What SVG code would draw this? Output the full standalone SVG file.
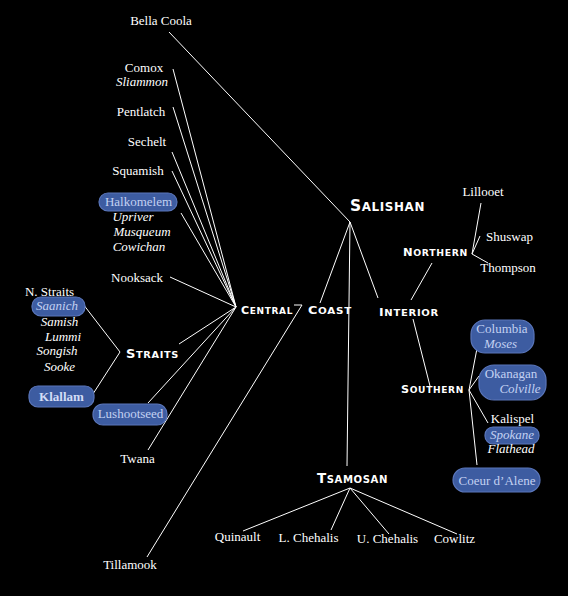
<svg xmlns="http://www.w3.org/2000/svg" width="568" height="596" viewBox="0 0 568 596">
<defs>
<style>
.t{font-family:"Liberation Serif","Times New Roman",serif;font-size:13px;fill:#ffffff;text-anchor:middle}
.i{font-style:italic}
.p{fill:#c3d1f2}
.sc{font-family:"DejaVu Sans","Liberation Sans",sans-serif;font-weight:bold;fill:#ffffff;letter-spacing:0.6px}
.pill{fill:#3d5ba1;stroke:#5a76ba;stroke-width:1.2}
.ln{stroke:#ffffff;stroke-width:1;fill:none}
</style>
<filter id="soft" x="-10%" y="-20%" width="120%" height="140%"><feGaussianBlur stdDeviation="0.7"/></filter>
</defs>
<rect width="568" height="596" fill="#000000"/>
<g id="connectors" class="ln">
<line x1="169" y1="32" x2="350" y2="222"/>
<line x1="350" y1="222" x2="320" y2="303"/>
<line x1="350" y1="222" x2="347" y2="466"/>
<line x1="350" y1="222" x2="378" y2="298"/>
<line x1="173" y1="69" x2="236" y2="307"/>
<line x1="173" y1="107" x2="236" y2="307"/>
<line x1="172" y1="152" x2="236" y2="307"/>
<line x1="172" y1="171" x2="236" y2="307"/>
<line x1="181" y1="213" x2="236" y2="307"/>
<line x1="170" y1="277" x2="236" y2="307"/>
<line x1="179" y1="344" x2="236" y2="307"/>
<line x1="148" y1="403" x2="236" y2="307"/>
<line x1="148" y1="450" x2="236" y2="307"/>
<polyline points="147,557 302,305 294,305"/>
<line x1="120" y1="352" x2="83" y2="304"/>
<line x1="120" y1="352" x2="91" y2="397"/>
<line x1="411" y1="300" x2="432" y2="263"/>
<line x1="413" y1="319" x2="430" y2="386"/>
<line x1="472" y1="254" x2="481" y2="203"/>
<line x1="472" y1="254" x2="480" y2="236"/>
<line x1="472" y1="254" x2="488" y2="263"/>
<line x1="469" y1="390" x2="479" y2="338"/>
<line x1="469" y1="390" x2="479" y2="376"/>
<line x1="469" y1="390" x2="488" y2="423"/>
<line x1="469" y1="390" x2="477" y2="465"/>
<line x1="350" y1="488" x2="243" y2="531"/>
<line x1="350" y1="488" x2="331" y2="530"/>
<line x1="350" y1="488" x2="389" y2="534"/>
<line x1="350" y1="488" x2="457" y2="534"/>
</g>
<g id="salishan"><text class="sc" x="350" y="211" textLength="75" lengthAdjust="spacingAndGlyphs"><tspan font-size="15">S</tspan><tspan font-size="11.5">ALISHAN</tspan></text></g>
<g id="central-coast">
<text class="sc" x="241" y="314" textLength="52" lengthAdjust="spacingAndGlyphs"><tspan font-size="10.5">C</tspan><tspan font-size="8.5">ENTRAL</tspan></text>
<text class="sc" x="308" y="314" textLength="44" lengthAdjust="spacingAndGlyphs"><tspan font-size="10.5">C</tspan><tspan font-size="8.5">OAST</tspan></text>
</g>
<g id="interior"><text class="sc" x="379" y="316" textLength="60" lengthAdjust="spacingAndGlyphs"><tspan font-size="10.5">I</tspan><tspan font-size="8.5">NTERIOR</tspan></text></g>
<g id="northern"><text class="sc" x="403" y="256" textLength="65" lengthAdjust="spacingAndGlyphs"><tspan font-size="10.5">N</tspan><tspan font-size="8.5">ORTHERN</tspan></text></g>
<g id="southern"><text class="sc" x="401" y="393" textLength="63" lengthAdjust="spacingAndGlyphs"><tspan font-size="10.5">S</tspan><tspan font-size="8.5">OUTHERN</tspan></text></g>
<g id="straits"><text class="sc" x="126" y="358" textLength="53" lengthAdjust="spacingAndGlyphs"><tspan font-size="12">S</tspan><tspan font-size="9">TRAITS</tspan></text></g>
<g id="tsamosan"><text class="sc" x="317" y="483" textLength="71" lengthAdjust="spacingAndGlyphs"><tspan font-size="14">T</tspan><tspan font-size="10.5">SAMOSAN</tspan></text></g>
<g id="bella-coola"><text class="t" x="161" y="25">Bella Coola</text></g>
<g id="comox"><text class="t" x="144" y="72">Comox</text><text class="t i" x="142" y="86">Sliammon</text></g>
<g id="pentlatch"><text class="t" x="141" y="116">Pentlatch</text></g>
<g id="sechelt"><text class="t" x="147" y="146">Sechelt</text></g>
<g id="squamish"><text class="t" x="138" y="175">Squamish</text></g>
<g id="halkomelem">
<rect class="pill" x="99" y="193" width="78" height="18" rx="9" filter="url(#soft)"/>
<text class="t p" x="138.5" y="206">Halkomelem</text>
<text class="t i" x="133" y="221">Upriver</text>
<text class="t i" x="142" y="236">Musqueum</text>
<text class="t i" x="139" y="251">Cowichan</text>
</g>
<g id="nooksack"><text class="t" x="137" y="282">Nooksack</text></g>
<g id="n-straits">
<text class="t" x="49.5" y="296">N. Straits</text>
<rect class="pill" x="32" y="297" width="53" height="19" rx="9" filter="url(#soft)"/>
<text class="t i p" x="57" y="310">Saanich</text>
<text class="t i" x="59.5" y="326">Samish</text>
<text class="t i" x="63" y="341">Lummi</text>
<text class="t i" x="57" y="355">Songish</text>
<text class="t i" x="59.5" y="371">Sooke</text>
</g>
<g id="klallam">
<rect class="pill" x="29" y="386" width="65" height="21" rx="9" filter="url(#soft)"/>
<text class="t p" x="61.5" y="401" font-size="15" font-weight="bold" style="fill:#d3ddf6">Klallam</text>
</g>
<g id="lushootseed">
<rect class="pill" x="93" y="404" width="74" height="21" rx="10" filter="url(#soft)"/>
<text class="t p" x="130.5" y="418">Lushootseed</text>
</g>
<g id="twana"><text class="t" x="137.5" y="463">Twana</text></g>
<g id="tillamook"><text class="t" x="130" y="569">Tillamook</text></g>
<g id="lillooet"><text class="t" x="483" y="196">Lillooet</text></g>
<g id="shuswap"><text class="t" x="509.5" y="241">Shuswap</text></g>
<g id="thompson"><text class="t" x="508" y="272">Thompson</text></g>
<g id="columbia">
<rect class="pill" x="471" y="320" width="63" height="33" rx="14" filter="url(#soft)"/>
<text class="t p" x="502" y="333">Columbia</text>
<text class="t i p" x="500.5" y="348">Moses</text>
</g>
<g id="okanagan">
<rect class="pill" x="479" y="365" width="67" height="35" rx="15" filter="url(#soft)"/>
<text class="t p" x="511" y="378">Okanagan</text>
<text class="t i p" x="520" y="393">Colville</text>
</g>
<g id="kalispel">
<text class="t" x="512.5" y="423">Kalispel</text>
<rect class="pill" x="485" y="427" width="54" height="17" rx="8" filter="url(#soft)"/>
<text class="t i p" x="512" y="439">Spokane</text>
<text class="t i" x="511" y="453">Flathead</text>
</g>
<g id="coeur-dalene">
<rect class="pill" x="453" y="468" width="87" height="24" rx="12" filter="url(#soft)"/>
<text class="t p" x="497" y="485">Coeur d’Alene</text>
</g>
<g id="quinault"><text class="t" x="237.5" y="541">Quinault</text></g>
<g id="l-chehalis"><text class="t" x="308.5" y="542">L. Chehalis</text></g>
<g id="u-chehalis"><text class="t" x="387.5" y="543">U. Chehalis</text></g>
<g id="cowlitz"><text class="t" x="454.5" y="543">Cowlitz</text></g>
</svg>
